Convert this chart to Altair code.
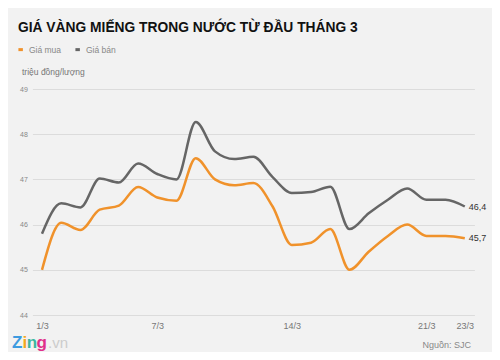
import altair as alt
import pandas as pd

days = list(range(1, 24))
gia_mua = [45.0, 46.04, 45.88, 46.33, 46.42, 46.83, 46.6, 46.53, 47.47, 47.0, 46.87, 46.92,
           46.4, 45.55, 45.6, 45.9, 45.0, 45.4, 45.75, 46.0, 45.75, 45.75, 45.7]
gia_ban = [45.8, 46.47, 46.38, 47.02, 46.93, 47.35, 47.12, 47.0, 48.27, 47.62, 47.45, 47.5,
           47.05, 46.7, 46.72, 46.84, 45.9, 46.25, 46.55, 46.8, 46.55, 46.55, 46.4]
series = ["Giá mua", "Giá bán"]
colors = ["#f0922b", "#666666"]
x_ticks = [1, 7, 14, 21, 23]
y_ticks = [44, 45, 46, 47, 48, 49]
end_labels = ["45,7", "46,4"]

rows = []
for d, m, b in zip(days, gia_mua, gia_ban):
    rows.append({"day": d, "price": m, "series": series[0]})
    rows.append({"day": d, "price": b, "series": series[1]})
df = pd.DataFrame(rows)

end_df = pd.DataFrame({
    "day": [days[-1], days[-1]],
    "price": [gia_mua[-1], gia_ban[-1]],
    "label": end_labels,
})

x = alt.X("day:Q", scale=alt.Scale(domain=[0.5, 23.5], nice=False, zero=False),
          axis=alt.Axis(values=x_ticks, labelExpr="datum.value + '/3'", title=None,
                        grid=False, domain=False, ticks=False, labelPadding=6,
                        labelFontSize=9, labelColor="#777777", labelFont="Liberation Sans"))
y = alt.Y("price:Q", scale=alt.Scale(domain=[44, 49], nice=False, zero=False),
          axis=alt.Axis(values=y_ticks, title=None, domain=False, ticks=False,
                        labelPadding=5, labelFontSize=7, labelColor="#888888",
                        gridColor="#dcdcdc", gridWidth=1, labelFont="Liberation Sans"))

lines = alt.Chart(df).mark_line(interpolate="monotone", strokeWidth=2.5).encode(
    x=x, y=y,
    color=alt.Color("series:N", scale=alt.Scale(domain=series, range=colors),
                    sort=series,
                    legend=alt.Legend(orient="none", legendX=-16, legendY=-44,
                                      direction="horizontal", title=None,
                                      symbolType="stroke", symbolStrokeWidth=3,
                                      symbolSize=20, labelFontSize=8.5,
                                      labelColor="#888888", labelFont="Liberation Sans",
                                      columnPadding=8, labelOffset=4)),
)

ends = alt.Chart(end_df).mark_text(align="left", dx=4, fontSize=9, color="#333333",
                                   font="Liberation Sans").encode(
    x="day:Q", y="price:Q", text="label:N")

one = pd.DataFrame({"k": [0]})
base = alt.Chart(one)

title = base.mark_text(align="left", baseline="alphabetic", fontSize=13.8, fontWeight="bold",
                       color="#111111", font="Liberation Sans").encode(
    x=alt.value(-14.4), y=alt.value(-57),
    text=alt.value("GIÁ VÀNG MIẾNG TRONG NƯỚC TỪ ĐẦU THÁNG 3"))
unit = base.mark_text(align="left", baseline="middle", fontSize=8.5, color="#777777",
                      font="Liberation Sans").encode(
    x=alt.value(-10.4), y=alt.value(-17), text=alt.value("triệu đồng/lượng"))
source = base.mark_text(align="right", baseline="middle", fontSize=9, color="#888888",
                        font="Liberation Sans").encode(
    x=alt.value(438.6), y=alt.value(256), text=alt.value("Nguồn: SJC"))

logo_parts = [("Z", "#3d9be0", -20.4), ("i", "#f2a81d", -9.8), ("n", "#3bb6a0", -5.6),
              ("g", "#e0308a", 4.2)]
logo_layers = []
for ch, col, xx in logo_parts:
    logo_layers.append(base.mark_text(align="left", baseline="alphabetic", fontSize=17,
                                      fontWeight="bold", color=col,
                                      font="Liberation Sans").encode(
        x=alt.value(xx), y=alt.value(259), text=alt.value(ch)))
logo_layers.append(base.mark_text(align="left", baseline="alphabetic", fontSize=15,
                                  color="#cccccc", font="Liberation Sans").encode(
    x=alt.value(15.6), y=alt.value(259), text=alt.value(".vn")))

chart = alt.layer(lines, ends, title, unit, source, *logo_layers).properties(
    width=442, height=226,
    autosize=alt.AutoSizeParams(type="none"),
    padding={"left": 24.4, "top": 81, "right": 17.6, "bottom": 37},
    background="#f2f2f2",
).configure_view(stroke=None)

chart.save("out.html", embed_options={"renderer": "svg", "actions": False})
